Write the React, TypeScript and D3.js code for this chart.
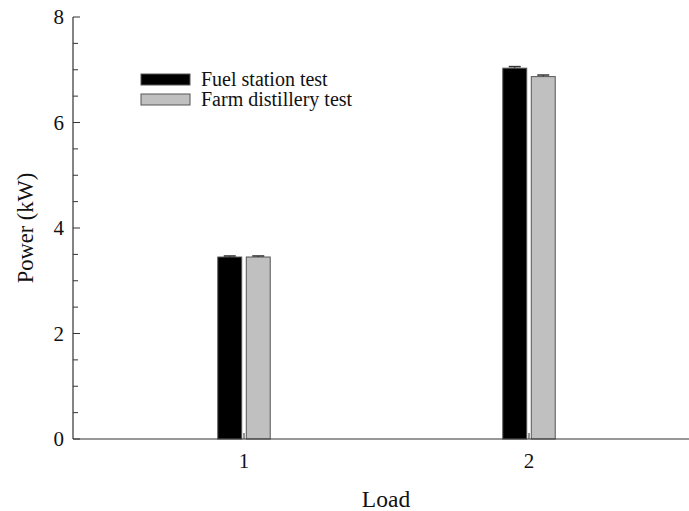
import React from "react";
import * as d3 from "d3";

const categories = [1, 2];
const seriesNames = ["Fuel station test", "Farm distillery test"];
const fuelStation = [3.45, 7.03];
const farmDistillery = [3.45, 6.87];
const fuelErr = [0.02, 0.03];
const farmErr = [0.02, 0.03];
const yTicks = [0, 2, 4, 6, 8];

const W = 689;
const H = 511;

export default function App() {
  const x = d3.scaleLinear().domain([0.4, 2.6]).range([73, 700]);
  const y = d3.scaleLinear().domain([0, 8]).range([439, 17]);
  const minor = d3.range(0, 8.01, 0.5);
  const barW = 0.084;
  const offs = [-0.05, 0.05];
  const fills = ["#000000", "#c0c0c0"];
  const series = [fuelStation, farmDistillery];
  const errs = [fuelErr, farmErr];
  const font = "Liberation Serif, Times New Roman, DejaVu Serif, serif";
  const ts = { fontFamily: font };

  return (
    <svg width={W} height={H} style={{ position: "absolute", left: 0, top: 0, background: "#fff", fontFamily: font }}>
      {series.map((s, si) =>
        s.map((v, ci) => {
          const cx = categories[ci] + offs[si];
          const x0 = x(cx - barW / 2);
          const x1 = x(cx + barW / 2);
          const xc = x(cx);
          const e = errs[si][ci];
          return (
            <g key={`${si}-${ci}`}>
              <rect x={x0} y={y(v)} width={x1 - x0} height={y(0) - y(v)} fill={fills[si]} stroke="#555" strokeWidth={1} />
              <line x1={xc} x2={xc} y1={y(v + e)} y2={y(v)} stroke="#333" strokeWidth={1} />
              <line x1={xc - 6} x2={xc + 6} y1={y(v + e)} y2={y(v + e)} stroke="#333" strokeWidth={1.5} />
            </g>
          );
        })
      )}
      <line x1={73} x2={73} y1={y(8)} y2={y(0)} stroke="#333" strokeWidth={1.2} />
      <line x1={73} x2={W} y1={y(0)} y2={y(0)} stroke="#333" strokeWidth={1.2} />
      {minor.map((t) => {
        const major = Math.abs(t - Math.round(t / 2) * 2) < 1e-6;
        return (
          <line key={t} x1={73} x2={73 + (major ? 7 : 5)} y1={y(t)} y2={y(t)} stroke="#333" strokeWidth={1} />
        );
      })}
      {yTicks.map((t) => (
        <text key={t} x={64} y={y(t) + 7} textAnchor="end" fontSize={21} fill="#111" style={ts}>
          {t}
        </text>
      ))}
      {categories.map((c) => (
        <g key={c}>
          <line x1={x(c)} x2={x(c)} y1={y(0)} y2={y(0) - 6} stroke="#333" strokeWidth={1} />
          <text x={x(c)} y={468} textAnchor="middle" fontSize={21} fill="#111" style={ts}>
            {c}
          </text>
        </g>
      ))}
      <text x={386} y={507} textAnchor="middle" fontSize={23.5} fill="#111" style={ts}>
        Load
      </text>
      <text transform={`translate(33, 228) rotate(-90)`} textAnchor="middle" fontSize={22.5} fill="#111" style={ts}>
        Power (kW)
      </text>
      {seriesNames.map((n, i) => (
        <g key={n}>
          <rect x={141} y={74 + i * 20} width={49} height={11} fill={fills[i]} stroke="#555" strokeWidth={1} />
          <text x={201} y={85.5 + i * 20} fontSize={20} fill="#111" style={ts}>
            {n}
          </text>
        </g>
      ))}
    </svg>
  );
}
